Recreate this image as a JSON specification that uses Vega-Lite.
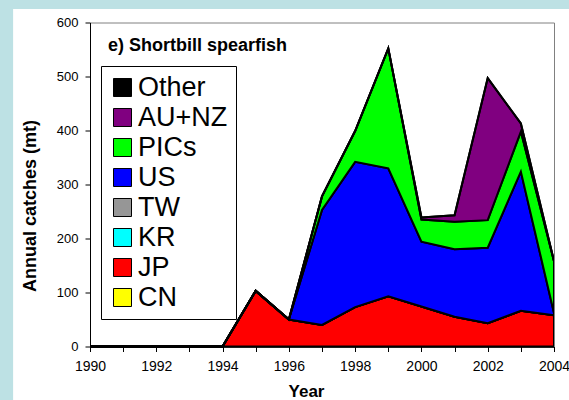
{
  "$schema": "https://vega.github.io/schema/vega-lite/v6.json",
  "width": 464,
  "height": 324,
  "autosize": {"type": "none"},
  "padding": {"left": 90, "top": 22.5, "right": 15, "bottom": 53.5},
  "background": "#BDE1E4",
  "data": {
    "values": [
      {"year": 1990, "CN": 0, "JP": 0, "KR": 0, "TW": 0, "US": 0, "PICs": 0, "AU+NZ": 0, "Other": 0},
      {"year": 1991, "CN": 0, "JP": 0, "KR": 0, "TW": 0, "US": 0, "PICs": 0, "AU+NZ": 0, "Other": 0},
      {"year": 1992, "CN": 0, "JP": 0, "KR": 0, "TW": 0, "US": 0, "PICs": 0, "AU+NZ": 0, "Other": 0},
      {"year": 1993, "CN": 0, "JP": 0, "KR": 0, "TW": 0, "US": 0, "PICs": 0, "AU+NZ": 0, "Other": 0},
      {"year": 1994, "CN": 0, "JP": 0, "KR": 0, "TW": 0, "US": 0, "PICs": 0, "AU+NZ": 0, "Other": 0},
      {"year": 1995, "CN": 0, "JP": 103, "KR": 0, "TW": 0, "US": 0, "PICs": 0, "AU+NZ": 0, "Other": 0},
      {"year": 1996, "CN": 0, "JP": 50, "KR": 0, "TW": 0, "US": 0, "PICs": 0, "AU+NZ": 0, "Other": 0},
      {"year": 1997, "CN": 0, "JP": 40, "KR": 0, "TW": 0, "US": 213, "PICs": 25, "AU+NZ": 0, "Other": 0},
      {"year": 1998, "CN": 0, "JP": 73, "KR": 0, "TW": 0, "US": 269, "PICs": 57, "AU+NZ": 0, "Other": 0},
      {"year": 1999, "CN": 0, "JP": 93, "KR": 0, "TW": 0, "US": 237, "PICs": 222, "AU+NZ": 0, "Other": 0},
      {"year": 2000, "CN": 0, "JP": 74, "KR": 0, "TW": 0, "US": 120, "PICs": 41, "AU+NZ": 4, "Other": 0},
      {"year": 2001, "CN": 0, "JP": 55, "KR": 0, "TW": 0, "US": 125, "PICs": 51, "AU+NZ": 12, "Other": 0},
      {"year": 2002, "CN": 0, "JP": 43, "KR": 0, "TW": 0, "US": 140, "PICs": 51, "AU+NZ": 263, "Other": 0},
      {"year": 2003, "CN": 0, "JP": 66, "KR": 0, "TW": 0, "US": 258, "PICs": 74, "AU+NZ": 15, "Other": 0},
      {"year": 2004, "CN": 0, "JP": 58, "KR": 0, "TW": 0, "US": 4, "PICs": 96, "AU+NZ": 0, "Other": 0}
    ]
  },
  "layer": [
    {
      "data": {"values": [{}]},
      "mark": {"type": "rect", "fill": "white"},
      "encoding": {
        "x": {
          "datum": 1987.68,
          "type": "quantitative",
          "scale": {"domain": [1990, 2004], "nice": false, "zero": false},
          "axis": {"orient": "top", "domainColor": "#808080", "domainWidth": 1, "ticks": false, "labels": false, "title": null, "grid": false, "zindex": 1}
        },
        "x2": {"datum": 2007},
        "y": {
          "datum": 625,
          "type": "quantitative",
          "scale": {"domain": [0, 600], "nice": false},
          "axis": {"orient": "right", "domainColor": "#808080", "domainWidth": 1, "ticks": false, "labels": false, "title": null, "grid": false, "zindex": 1}
        },
        "y2": {"datum": -200}
      }
    },
    {
      "transform": [
        {"fold": ["CN", "JP", "KR", "TW", "US", "PICs", "AU+NZ", "Other"], "as": ["country", "catch"]},
        {"window": [{"op": "row_number", "as": "idx"}], "groupby": ["year"]}
      ],
      "mark": {"type": "area", "stroke": "black", "strokeWidth": 2, "strokeJoin": "miter", "interpolate": "linear"},
      "encoding": {
        "x": {
          "field": "year",
          "type": "quantitative",
          "scale": {"domain": [1990, 2004], "nice": false, "zero": false},
          "axis": {
            "orient": "bottom",
            "values": [1990, 1991, 1992, 1993, 1994, 1995, 1996, 1997, 1998, 1999, 2000, 2001, 2002, 2003, 2004],
            "format": "d",
            "labelExpr": "datum.value % 2 === 0 ? datum.label : ''",
            "labelFlush": false,
            "labelOverlap": false,
            "labelFont": "Liberation Sans",
            "labelFontSize": 14,
            "labelColor": "black",
            "labelPadding": 8,
            "tickColor": "black",
            "tickSize": 5,
            "domainColor": "black",
            "domainWidth": 1,
            "grid": false,
            "zindex": 1,
            "title": "Year",
            "titleFont": "Liberation Sans",
            "titleFontSize": 17,
            "titleFontWeight": "bold",
            "titleColor": "black",
            "titleX": 216,
            "titleY": 50,
            "titleBaseline": "alphabetic"
          }
        },
        "y": {
          "field": "catch",
          "type": "quantitative",
          "stack": "zero",
          "scale": {"domain": [0, 600], "nice": false},
          "axis": {
            "orient": "left",
            "values": [0, 100, 200, 300, 400, 500, 600],
            "labelFlush": false,
            "labelFont": "Liberation Sans",
            "labelFontSize": 13,
            "labelColor": "black",
            "labelPadding": 7,
            "tickColor": "black",
            "tickSize": 5,
            "domainColor": "black",
            "domainWidth": 1,
            "grid": false,
            "zindex": 1,
            "title": "Annual catches (mt)",
            "titleFont": "Liberation Sans",
            "titleFontSize": 18,
            "titleFontWeight": "bold",
            "titleColor": "black",
            "titleAngle": 270,
            "titleBaseline": "middle",
            "titleX": -60,
            "titleY": 183
          }
        },
        "color": {
          "field": "country",
          "type": "nominal",
          "scale": {
            "domain": ["Other", "AU+NZ", "PICs", "US", "TW", "KR", "JP", "CN"],
            "range": ["#000000", "#800080", "#00FF00", "#0000FF", "#969696", "#00FFFF", "#FF0000", "#FFFF00"]
          },
          "legend": {
            "title": null,
            "orient": "none",
            "legendX": 11,
            "legendY": 43.5,
            "direction": "vertical",
            "fillColor": "white",
            "strokeColor": "black",
            "padding": 8,
            "symbolType": "square",
            "symbolSize": 324,
            "symbolStrokeColor": "black",
            "symbolStrokeWidth": 1,
            "symbolOpacity": 1,
            "labelFont": "Liberation Sans",
            "labelFontSize": 27,
            "labelColor": "black",
            "labelOffset": 2,
            "labelLimit": 300,
            "rowPadding": 2
          }
        },
        "order": {"field": "idx", "type": "quantitative"}
      }
    },
    {
      "data": {"values": [{"label": "e) Shortbill spearfish"}]},
      "mark": {"type": "text", "align": "left", "baseline": "alphabetic", "font": "Liberation Sans", "fontSize": 18, "fontWeight": "bold", "color": "black"},
      "encoding": {
        "x": {"datum": 1990.54, "type": "quantitative", "axis": null},
        "y": {"datum": 547.5, "type": "quantitative", "axis": null},
        "text": {"field": "label", "type": "nominal"}
      }
    }
  ],
  "resolve": {"axis": {"x": "independent", "y": "independent"}},
  "config": {"view": {"stroke": null}, "font": "Liberation Sans"}
}
